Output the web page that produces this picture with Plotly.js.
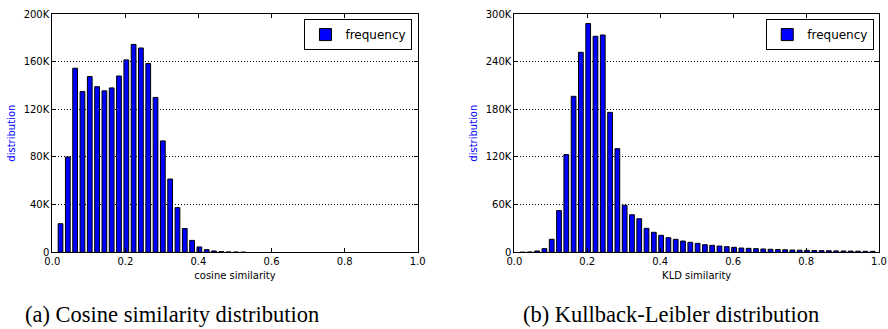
<!DOCTYPE html>
<html>
<head>
<meta charset="utf-8">
<script src="https://cdn.plot.ly/plotly-3.0.1.min.js"></script>
<style>html,body{margin:0;padding:0;background:#fff;}#chart{width:888px;height:329px;}</style>
</head>
<body>
<div id="chart"></div>
<script>
// ---- data ----
const cosineBins = [0.02,0.04,0.06,0.08,0.10,0.12,0.14,0.16,0.18,0.20,0.22,0.24,0.26,0.28,0.30,0.32,0.34,0.36,0.38,0.40,0.42,0.44,0.46,0.48,0.50,0.52];
const cosineFreq = [24000,80000,154500,135000,147500,139000,135500,138000,148000,161500,174500,171500,158500,130000,93500,61500,37500,20000,10000,4500,2200,1100,600,350,200,100];

const kldBins = [0.02,0.04,0.06,0.08,0.10,0.12,0.14,0.16,0.18,0.20,0.22,0.24,0.26,0.28,0.30,0.32,0.34,0.36,0.38,0.40,0.42,0.44,0.46,0.48,0.50,0.52,0.54,0.56,0.58,0.60,0.62,0.64,0.66,0.68,0.70,0.72,0.74,0.76,0.78,0.80,0.82,0.84,0.86,0.88,0.90,0.92,0.94,0.96,0.98];
const kldFreq = [100,400,1700,4600,16400,52500,123000,196400,251800,288000,272000,273600,176200,130500,59200,47300,42300,30200,25200,21400,18400,16400,14200,12600,11300,9600,8800,7900,7100,6300,5400,5000,4600,4200,3800,3500,3200,2900,2700,2500,2300,2100,1950,1800,1650,1500,1400,1300,1200];

const xTickVals = [0.0,0.2,0.4,0.6,0.8,1.0];
const xTickText = ['0.0','0.2','0.4','0.6','0.8','1.0'];
const cosYTickVals = [0,40000,80000,120000,160000,200000];
const cosYTickText = ['0','40K','80K','120K','160K','200K'];
const kldYTickVals = [0,60000,120000,180000,240000,300000];
const kldYTickText = ['0','60K','120K','180K','240K','300K'];

const seriesName = 'frequency';
const xTitles = ['cosine similarity','KLD similarity'];
const yTitle = 'distribution';
const captions = ['(a) Cosine similarity distribution','(b) Kullback-Leibler distribution'];

// ---- styles ----
const BAR_W = 0.013;
const BAR_SHIFT = 0.0025;
const font = {family:'DejaVu Sans, sans-serif', size:10, color:'#000'};

function bar(x, y, xa, ya, lg) {
  return {
    type:'bar', x:x, y:y, name:seriesName, xaxis:xa, yaxis:ya, legend:lg,
    width:BAR_W, offset:BAR_SHIFT - BAR_W/2,
    marker:{color:'#0000ff', line:{color:'#000', width:1}},
    hoverinfo:'x+y'
  };
}

function xAxis(domain, anchor, title) {
  return {
    domain:domain, anchor:anchor, range:[0,1],
    tickvals:xTickVals, ticktext:xTickText,
    ticks:'inside', ticklen:4, tickwidth:1, tickcolor:'#000',
    showline:true, linecolor:'#000', linewidth:1, mirror:'ticks',
    showgrid:false, zeroline:false,
    tickfont:font,
    title:{text:title, font:font, standoff:5}
  };
}
function yAxis(domain, anchor, vals, text) {
  return {
    domain:domain, anchor:anchor, range:[0, vals[vals.length-1]],
    tickvals:vals, ticktext:text,
    ticks:'inside', ticklen:4, tickwidth:1, tickcolor:'#000',
    showline:true, linecolor:'#000', linewidth:1, mirror:'ticks',
    showgrid:true, gridcolor:'#000', gridwidth:1, griddash:'1px,2px',
    zeroline:false,
    tickfont:font,
    title:{text:yTitle, font:{family:font.family, size:10, color:'#0000ff'}, standoff:6}
  };
}

const yDom = [0.2331, 0.9574];
const data = [
  bar(cosineBins, cosineFreq, 'x', 'y', 'legend'),
  bar(kldBins, kldFreq, 'x2', 'y2', 'legend2')
];

const legendStyle = {
  bgcolor:'#fff', bordercolor:'#000', borderwidth:1,
  font:{family:font.family, size:12, color:'#000'},
  xanchor:'right', yanchor:'top', xref:'paper', yref:'paper',
  itemclick:false, itemdoubleclick:false
};

const captionFont = {family:'Liberation Serif, serif', size:22.5, color:'#000'};

const layout = {
  width:888, height:329,
  margin:{l:0, r:0, t:0, b:0},
  paper_bgcolor:'#fff', plot_bgcolor:'#fff',
  font:font,
  showlegend:true,
  xaxis: xAxis([0.0589,0.4704],'y', xTitles[0]),
  yaxis: yAxis(yDom,'x', cosYTickVals, cosYTickText),
  xaxis2: xAxis([0.5792,0.9899],'y2', xTitles[1]),
  yaxis2: yAxis(yDom,'x2', kldYTickVals, kldYTickText),
  legend: Object.assign({x:0.4645, y:0.942}, legendStyle),
  legend2: Object.assign({x:0.9845, y:0.942}, legendStyle),
  annotations:[
    {text:captions[0], xref:'paper', yref:'paper', x:0.1937, y:0.045, xanchor:'center', yanchor:'middle', showarrow:false, font:captionFont},
    {text:captions[1], xref:'paper', yref:'paper', x:0.756, y:0.045, xanchor:'center', yanchor:'middle', showarrow:false, font:captionFont}
  ]
};

Plotly.newPlot('chart', data, layout, {displayModeBar:false, staticPlot:true});
</script>
</body>
</html>
